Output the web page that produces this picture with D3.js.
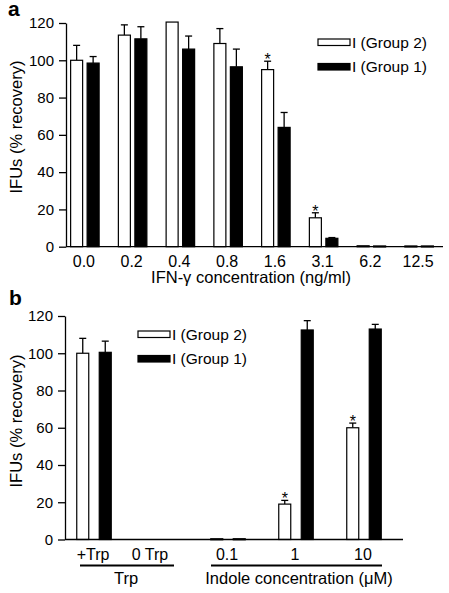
<!DOCTYPE html>
<html><head><meta charset="utf-8">
<script src="https://cdn.jsdelivr.net/npm/d3@7"></script>
<style>body{margin:0;background:#fff}svg{display:block;font-family:"Liberation Sans",Arial,Helvetica,sans-serif}</style>
</head><body>
<script>
// ---- Data ----
const seriesNames = ["I (Group 2)", "I (Group 1)"];
const seriesKeys = ["g2", "g1"];
const yTicks = [0, 20, 40, 60, 80, 100, 120];

// Panel a
const aCategories = ["0.0", "0.2", "0.4", "0.8", "1.6", "3.1", "6.2", "12.5"];
const aGroup2 = [100, 113.5, 120.5, 109, 95, 15.5, 0.5, 0.4];
const aGroup2Err = [8, 5.5, 0, 8, 4.5, 2.7, 0, 0];
const aGroup1 = [98.5, 111.5, 106, 96.5, 64, 4.5, 0.4, 0.4];
const aGroup1Err = [3.5, 6.5, 7, 9.5, 8, 0.4, 0, 0];
const aStars = ["4:g2", "5:g2"];

// Panel b
const bTrpCategories = ["+Trp", "0 Trp"];
const bIndoleCategories = ["0.1", "1", "10"];
const bGroup2 = [100, 0, 0.4, 19, 60];
const bGroup2Err = [8, 0, 0, 2, 2.5];
const bGroup1 = [100.5, 0, 0.4, 112.5, 113];
const bGroup1Err = [6, 0, 0, 5, 2.5];
const bStars = ["3:g2", "4:g2"];

const W = 449, H = 593;
const svg = d3.select("body").append("svg").attr("width", W).attr("height", H);
const FS_Y = 15, FS_X = 16, FS_T = 16.5, FS_L = 15.5;

function drawYAxis(g, y, x0) {
  const ax = d3.axisLeft(y).tickValues(yTicks).tickSize(7).tickSizeOuter(0).tickPadding(5);
  const a = g.append("g").attr("transform", `translate(${x0},0)`).call(ax);
  a.selectAll("path,line").attr("stroke", "#000").attr("stroke-width", 1.3);
  a.selectAll("text").attr("font-size", FS_Y).attr("fill", "#000").style("font-family", "inherit");
}

function drawBars(g, centers, y, inner, g2, g2e, g1, g1e, stars) {
  const rows = [];
  centers.forEach((cx, i) => {
    rows.push({i, key: "g2", cx, v: g2[i], e: g2e[i]});
    rows.push({i, key: "g1", cx, v: g1[i], e: g1e[i]});
  });
  const bw = inner.bandwidth();
  const y0 = y(0);
  rows.forEach(r => {
    if (r.v <= 0) return;
    const x = r.cx + inner(r.key);
    if (r.e > 0) {
      const ey = y(r.v + r.e);
      const mx = x + bw / 2;
      g.append("line").attr("x1", mx).attr("x2", mx).attr("y1", y(r.v)).attr("y2", ey)
        .attr("stroke", "#000").attr("stroke-width", 1.3);
      g.append("line").attr("x1", mx - 3.5).attr("x2", mx + 3.5).attr("y1", ey).attr("y2", ey)
        .attr("stroke", "#000").attr("stroke-width", 1.3);
    }
    g.append("rect").attr("x", x).attr("y", y(r.v)).attr("width", bw)
      .attr("height", Math.max(1, y0 - y(r.v)))
      .attr("fill", r.key === "g2" ? "#fff" : "#000")
      .attr("stroke", "#000").attr("stroke-width", 1.2);
    if (stars.includes(r.i + ":" + r.key)) {
      g.append("text").attr("x", x + bw / 2).attr("y", y(r.v + r.e) + 4)
        .attr("text-anchor", "middle").attr("font-size", 16).text("*");
    }
  });
}

function drawLegend(g, x, y1, y2) {
  [y1, y2].forEach((yy, k) => {
    g.append("rect").attr("x", x).attr("y", yy).attr("width", 32).attr("height", 6.5)
      .attr("fill", k === 0 ? "#fff" : "#000").attr("stroke", "#000").attr("stroke-width", 1.2);
    g.append("text").attr("x", x + 34).attr("y", yy + 8.5).attr("font-size", FS_L).text(seriesNames[k]);
  });
}

// ---------- Panel a ----------
{
  const g = svg.append("g");
  const y = d3.scaleLinear().domain([0, 120]).range([246.7, 23]);
  const x = d3.scaleBand().domain(aCategories).range([61, 443]).padding(0);
  const inner = d3.scaleBand().domain(seriesKeys).range([-14.25, 14.25]).paddingInner(0.2727);
  const centers = aCategories.map(c => x(c) + x.bandwidth() / 2);
  drawBars(g, centers, y, inner, aGroup2, aGroup2Err, aGroup1, aGroup1Err, aStars);
  drawYAxis(g, y, 66);
  g.append("line").attr("x1", 66).attr("x2", 443).attr("y1", y(0)).attr("y2", y(0))
    .attr("stroke", "#000").attr("stroke-width", 1.3);
  aCategories.forEach((c, i) => {
    g.append("text").attr("x", centers[i] - 1).attr("y", 266.5).attr("text-anchor", "middle")
      .attr("font-size", FS_X).text(c);
  });
  g.append("text").attr("x", 251).attr("y", 283).attr("text-anchor", "middle").attr("font-size", FS_T)
    .text("IFN-γ concentration (ng/ml)");
  g.append("text").attr("transform", "translate(22,127) rotate(-90)").attr("text-anchor", "middle")
    .attr("font-size", FS_T).text("IFUs (% recovery)");
  g.append("text").attr("x", 8).attr("y", 16).attr("font-size", 21).attr("font-weight", "bold").text("a");
  drawLegend(g, 318, 39, 63.5);
}

// ---------- Panel b ----------
{
  const g = svg.append("g");
  const y = d3.scaleLinear().domain([0, 120]).range([539.5, 316]);
  const xT = d3.scaleBand().domain(bTrpCategories).range([65.5, 179.5]).padding(0);
  const xI = d3.scaleBand().domain(bIndoleCategories).range([194, 398]).padding(0);
  const inner = d3.scaleBand().domain(seriesKeys).range([-17.25, 17.25]).paddingInner(0.4667);
  const centers = bTrpCategories.map(c => xT(c) + xT.bandwidth() / 2)
    .concat(bIndoleCategories.map(c => xI(c) + xI.bandwidth() / 2));
  drawBars(g, centers, y, inner, bGroup2, bGroup2Err, bGroup1, bGroup1Err, bStars);
  drawYAxis(g, y, 65);
  g.append("line").attr("x1", 65).attr("x2", 403).attr("y1", y(0)).attr("y2", y(0))
    .attr("stroke", "#000").attr("stroke-width", 1.3);
  const labels = bTrpCategories.concat(bIndoleCategories);
  labels.forEach((c, i) => {
    g.append("text").attr("x", centers[i] - 1).attr("y", 559.5).attr("text-anchor", "middle")
      .attr("font-size", FS_X).text(c);
  });
  g.append("line").attr("x1", 80).attr("x2", 174).attr("y1", 565.5).attr("y2", 565.5)
    .attr("stroke", "#000").attr("stroke-width", 2.2);
  g.append("line").attr("x1", 211).attr("x2", 382).attr("y1", 565.5).attr("y2", 565.5)
    .attr("stroke", "#000").attr("stroke-width", 2.2);
  g.append("text").attr("x", 126).attr("y", 583.5).attr("text-anchor", "middle").attr("font-size", FS_T).text("Trp");
  g.append("text").attr("x", 299).attr("y", 583.5).attr("text-anchor", "middle").attr("font-size", FS_T)
    .text("Indole concentration (μM)");
  g.append("text").attr("transform", "translate(22,421) rotate(-90)").attr("text-anchor", "middle")
    .attr("font-size", FS_T).text("IFUs (% recovery)");
  g.append("text").attr("x", 9).attr("y", 305).attr("font-size", 21).attr("font-weight", "bold").text("b");
  drawLegend(g, 138, 331, 355.5);
}
</script>
</body></html>
